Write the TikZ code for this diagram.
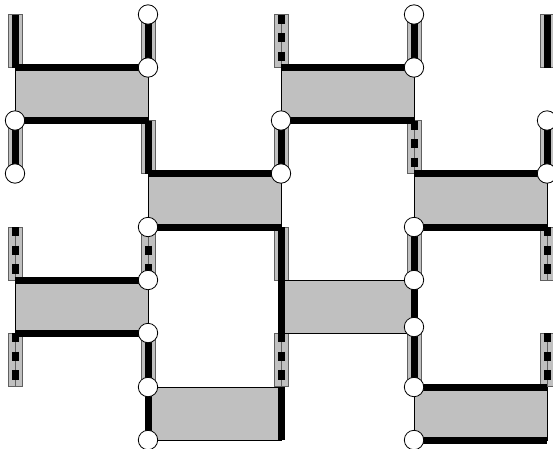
\documentclass[tikz,border=0pt]{standalone}
\usepackage{tikz}
\definecolor{cellgray}{HTML}{C0C0C0}
\definecolor{railedge}{HTML}{606060}

\begin{document}
\begin{tikzpicture}[
    x=1pt, y=-1pt,
    cell/.style={draw=black, line width=0.8pt, fill=cellgray},
    railbox/.style={draw=railedge, line width=0.9pt, fill=cellgray, inner sep=0pt,
                minimum width=14pt, minimum height=53pt},
    track/.style={line width=7pt},
    dashtrack/.style={line width=7pt, dash pattern=on 9.3pt off 9.3pt},
    midline/.style={draw=railedge, line width=0.5pt},
    dot/.style={circle, draw=black, fill=white, line width=0.8pt, inner sep=0pt,
                minimum size=19.4pt}]
    \path[use as bounding box, clip] (0,0) rectangle (553,448);
    % grid points
    \foreach \x/\cn in {15/1, 148/2, 281/3, 414/4, 547/5}
        \foreach \y/\rn in {14.5/a, 67.5/b, 120.5/c, 173.5/d, 227/e, 280/f, 333/g, 387/h, 440/i}
            \coordinate (\cn\rn) at (\x,\y);
    \coordinate (4x) at (414,327);
    % rails
    \foreach \p/\q in {1a/1b, 1c/1d, 2a/2b, 2c/2d, 2g/2h, 3c/3d, 3e/3f, 4a/4b, 4e/4f, 4g/4h, 5a/5b, 5c/5d} {
        \path (\p) -- (\q) node[midway, railbox] (rail\p) {};
        \draw[track] (\p) -- (\q);
    }
    \foreach \p/\q in {1e/1f, 1g/1h, 2e/2f, 3a/3b, 3g/3h, 4c/4d, 5e/5f, 5g/5h} {
        \path (\p) -- (\q) node[midway, railbox] (rail\p) {};
        \draw[midline] (\p) -- (\q);
        \draw[dashtrack] (\p) -- (\q);
    }
    % cells
    \foreach \p/\q in {1b/2c, 2d/3e, 3b/4c, 4d/5e, 1f/2g, 3f/4g, 2h/3i, 4h/5i}
        \draw[cell] (\p) rectangle (\q);
    % thick edges
    \foreach \p/\q in {1b/2b, 1c/2c, 2d/3d, 2e/3e, 3b/4b, 3c/4c, 4d/5d, 4e/5e,
                       1f/2f, 1g/2g, 4h/5h, 4i/5i, 3f/3g, 4f/4g, 2h/2i, 3h/3i}
        \draw[track] (\p) -- (\q);
    % joints
    \foreach \p in {2a, 2b, 1c, 1d, 3c, 3d, 2e, 4a, 4b, 5c, 5d, 4e, 2f, 2g, 2h, 2i, 4f, 4x, 4h, 4i}
        \node[dot] (dot\p) at (\p) {};
\end{tikzpicture}
\end{document}
